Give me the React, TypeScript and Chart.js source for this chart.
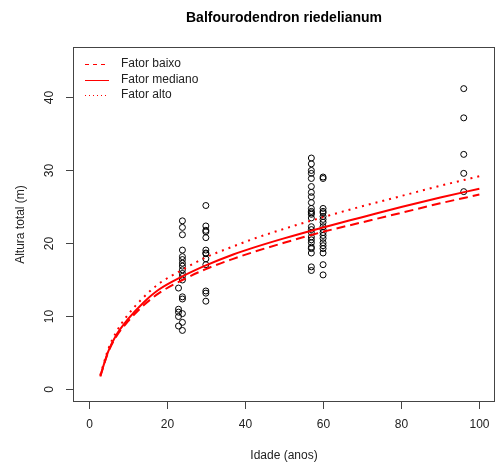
import React, { useEffect, useRef } from "react";
import { Chart, registerables } from "chart.js";

Chart.register(...registerables);

const titleText = "Balfourodendron riedelianum";
const xTitle = "Idade (anos)";
const yTitle = "Altura total (m)";
const xTicks = [0, 20, 40, 60, 80, 100];
const yTicks = [0, 10, 20, 30, 40];
const legendLabels = ["Fator baixo", "Fator mediano", "Fator alto"];

// observed trees
const ages23 = [13.8, 10.9, 10.5, 9.9, 8.6];
const ages24 = [23.0, 22.1, 21.1, 19.0, 18.1, 17.7, 17.2, 16.8, 16.3, 15.8, 15.4, 14.9, 12.6, 12.3, 10.3, 9.1, 8.0];
const ages30 = [25.1, 22.3, 21.7, 21.5, 20.7, 19.0, 18.6, 18.5, 17.8, 17.0, 13.4, 13.1, 12.0];
const ages57 = [31.6, 30.8, 29.9, 29.5, 28.8, 27.7, 26.9, 26.3, 25.5, 24.7, 24.3, 24.1, 23.9, 23.4, 22.2, 21.8, 21.4, 20.8, 20.4, 20.0, 19.4, 19.2, 18.6, 16.7, 16.2];
const ages60 = [29.0, 28.8, 24.7, 24.3, 24.1, 23.6, 23.2, 22.8, 22.2, 21.8, 21.4, 21.0, 20.6, 20.0, 19.6, 19.2, 18.6, 17.0, 15.6];
const ages96 = [41.1, 37.1, 32.1, 29.5, 27.0];

// fitted curves
const curveAges = [3, 5, 7, 10, 14, 18, 24, 30, 37, 42, 50, 60, 70, 80, 90, 100];
const curveBaixo = [1.7, 5.0, 7.1, 9.2, 11.4, 13.1, 14.9, 16.4, 17.8, 18.7, 20.0, 21.5, 22.8, 24.1, 25.4, 26.6];
const curveMediano = [1.8, 5.1, 7.3, 9.5, 11.8, 13.6, 15.4, 16.9, 18.4, 19.3, 20.6, 22.1, 23.5, 24.9, 26.2, 27.4];
const curveAlto = [1.9, 5.4, 7.7, 10.1, 12.5, 14.4, 16.3, 18.0, 19.5, 20.5, 21.9, 23.5, 25.0, 26.4, 27.8, 29.1];

const FONT = "'Liberation Sans', Arial, Helvetica, sans-serif";

export default function App() {
  const ref = useRef<HTMLCanvasElement | null>(null);

  useEffect(() => {
    if (!ref.current) return;
    const groups: [number, number[]][] = [
      [23, ages23],
      [24, ages24],
      [30, ages30],
      [57, ages57],
      [60, ages60],
      [96, ages96],
    ];
    const pts: { x: number; y: number }[] = [];
    groups.forEach(([a, hs]) => hs.forEach((h) => pts.push({ x: a, y: h })));
    const mk = (vals: number[]) => curveAges.map((a, i) => ({ x: a, y: vals[i] }));

    const decor = {
      id: "decor",
      afterDraw(chart: any) {
        const ctx = chart.ctx as CanvasRenderingContext2D;
        const { left, right, top, bottom } = chart.chartArea;
        const xs = chart.scales.x;
        const ys = chart.scales.y;
        ctx.save();
        ctx.strokeStyle = "#444";
        ctx.lineWidth = 1;
        ctx.setLineDash([]);
        ctx.strokeRect(left + 0.5, top + 0.5, right - left - 1, bottom - top - 1);
        ctx.fillStyle = "#222";
        ctx.font = `12px ${FONT}`;
        ctx.textAlign = "center";
        ctx.textBaseline = "middle";
        xTicks.forEach((v) => {
          const px = Math.round(xs.getPixelForValue(v)) + 0.5;
          ctx.beginPath();
          ctx.moveTo(px, bottom);
          ctx.lineTo(px, bottom + 7);
          ctx.stroke();
          ctx.fillText(String(v), px, 425);
        });
        yTicks.forEach((v) => {
          const py = Math.round(ys.getPixelForValue(v)) + 0.5;
          ctx.beginPath();
          ctx.moveTo(left - 7, py);
          ctx.lineTo(left, py);
          ctx.stroke();
          ctx.save();
          ctx.translate(50, py);
          ctx.rotate(-Math.PI / 2);
          ctx.fillText(String(v), 0, 0);
          ctx.restore();
        });
        // axis titles
        ctx.fillText(xTitle, (left + right) / 2, 456);
        ctx.save();
        ctx.translate(21, (top + bottom) / 2);
        ctx.rotate(-Math.PI / 2);
        ctx.fillText(yTitle, 0, 0);
        ctx.restore();
        // title
        ctx.fillStyle = "#000";
        ctx.font = `bold 14px ${FONT}`;
        ctx.fillText(titleText, (left + right) / 2, 18);
        // legend
        const dashes = [[4, 4], [], [1, 3]];
        const rows = [64, 80, 95];
        ctx.font = `12px ${FONT}`;
        ctx.textAlign = "left";
        legendLabels.forEach((lab, i) => {
          ctx.strokeStyle = "#ff0000";
          ctx.lineWidth = 1;
          ctx.setLineDash(dashes[i]);
          ctx.beginPath();
          ctx.moveTo(85, rows[i] + 0.5);
          ctx.lineTo(109, rows[i] + 0.5);
          ctx.stroke();
          ctx.setLineDash([]);
          ctx.fillStyle = "#222";
          ctx.fillText(lab, 121, rows[i]);
        });
        ctx.restore();
      },
    };

    const lineDs = (label: string, vals: number[], dash: number[]) => ({
      label,
      data: mk(vals),
      showLine: true,
      borderColor: "#ff0000",
      borderWidth: 2,
      borderDash: dash,
      pointRadius: 0,
      fill: false,
      cubicInterpolationMode: "monotone" as const,
    });

    const chart = new Chart(ref.current, {
      type: "scatter",
      data: {
        datasets: [
          lineDs(legendLabels[0], curveBaixo, [9, 5]),
          lineDs(legendLabels[1], curveMediano, []),
          lineDs(legendLabels[2], curveAlto, [2, 5]),
          {
            label: "obs",
            data: pts,
            showLine: false,
            pointRadius: 3,
            pointStyle: "circle",
            backgroundColor: "rgba(0,0,0,0)",
            borderColor: "#000",
            borderWidth: 1,
          } as any,
        ],
      },
      options: {
        animation: false,
        responsive: false,
        devicePixelRatio: 1,
        layout: { padding: { left: 73, right: 3, top: 47, bottom: 66 } },
        plugins: { legend: { display: false }, tooltip: { enabled: false }, title: { display: false } },
        scales: {
          x: { type: "linear", min: -4, max: 104, display: false },
          y: { type: "linear", min: -1.8, max: 46.8, display: false },
        },
      },
      plugins: [decor],
    });
    return () => chart.destroy();
  }, []);

  return (
    <div style={{ position: "absolute", left: 0, top: 0, width: 500, height: 468, background: "#fff" }}>
      <canvas ref={ref} width={500} height={468} />
    </div>
  );
}
